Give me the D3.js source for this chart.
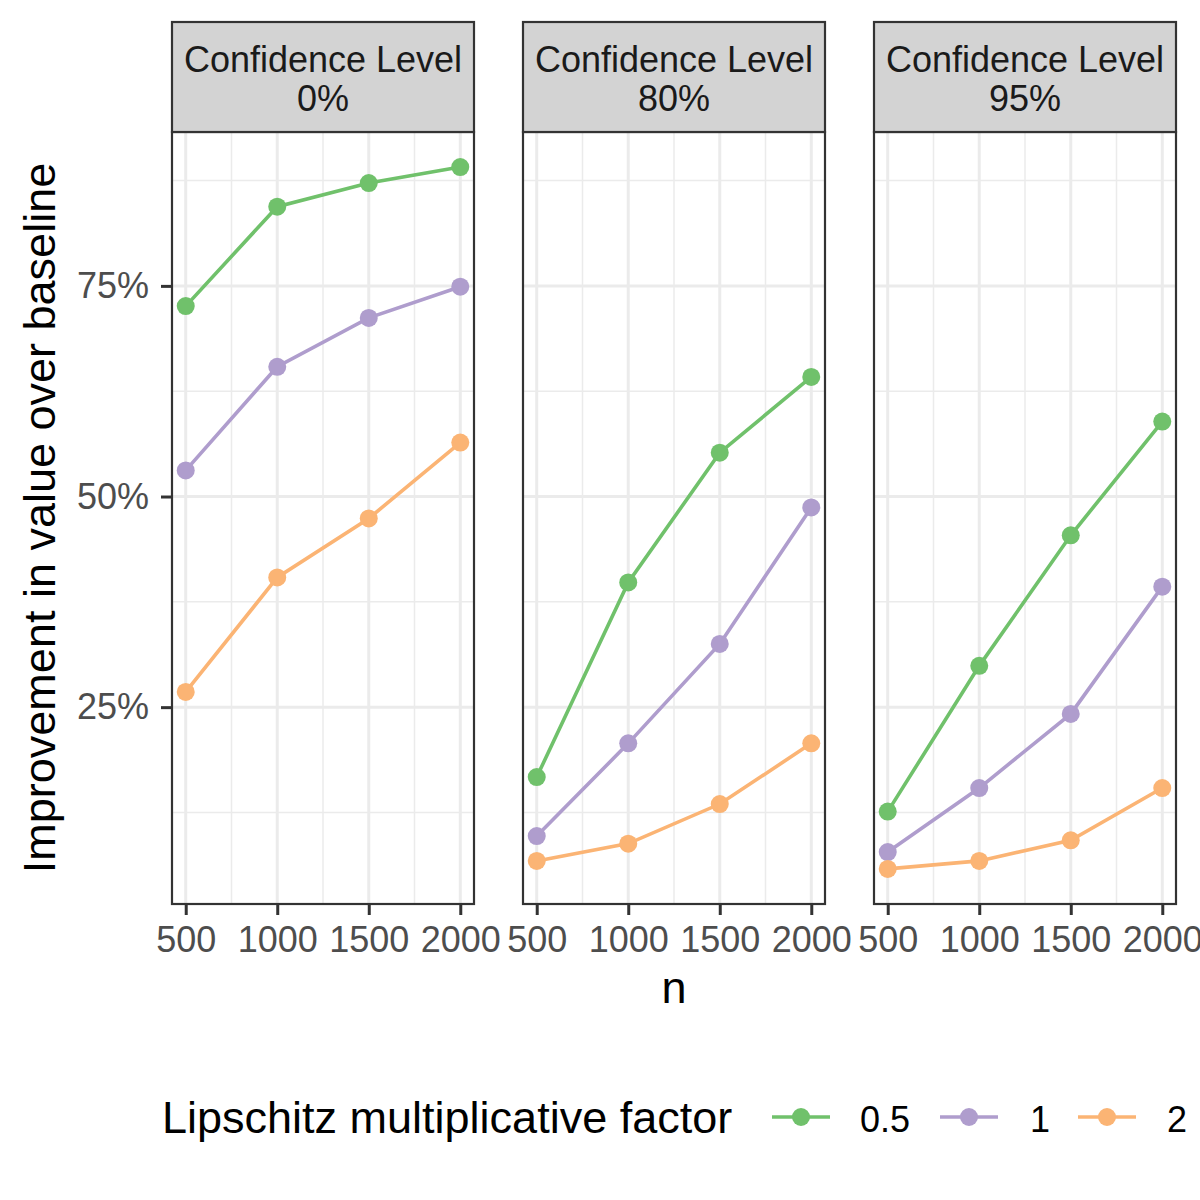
<!DOCTYPE html>
<html>
<head>
<meta charset="utf-8">
<script src="https://cdn.jsdelivr.net/npm/d3@7"></script>
<style>
  body { margin: 0; background: #fff; }
  text { font-family: "Liberation Sans", Arial, Helvetica, sans-serif; }
</style>
</head>
<body>
<div id="graph"></div>
<script>
// datos
const panels = ["0%", "80%", "95%"];
const factors = ["0.5", "1", "2"];
const nValues = [500, 1000, 1500, 2000];
const xTicks = [500, 1000, 1500, 2000];
const yTicks = [0.25, 0.50, 0.75];
const colors = ["#70C16B", "#AF9DCD", "#FBB474"];

// mejora (%) por panel y factor
const conf0 = {
  "0.5": [72.6, 84.4, 87.2, 89.1],
  "1":   [53.1, 65.4, 71.2, 74.9],
  "2":   [26.8, 40.4, 47.4, 56.4]
};
const conf80 = {
  "0.5": [16.7, 39.8, 55.2, 64.2],
  "1":   [9.7, 20.7, 32.5, 48.7],
  "2":   [6.75, 8.8, 13.5, 20.7]
};
const conf95 = {
  "0.5": [12.6, 29.9, 45.4, 58.9],
  "1":   [7.8, 15.4, 24.2, 39.3],
  "2":   [5.8, 6.75, 9.2, 15.4]
};
const panelData = [conf0, conf80, conf95];

const width = 1200, height = 1200;
const svg = d3.select("#graph").append("svg")
  .attr("width", width)
  .attr("height", height);

const panelLeft = [172, 523, 874];
const panelW = 302;
const stripTop = 22, stripH = 110;
const plotTop = stripTop + stripH, plotBottom = 904;
const fontFam = "'Liberation Sans', Arial, sans-serif";

// escala y con expansión del 5% como ggplot
const allVals = panelData.flatMap(p => factors.flatMap(f => p[f])).map(v => v / 100);
const yMin = d3.min(allVals), yMax = d3.max(allVals);
const yPad = (yMax - yMin) * 0.05;
const y = d3.scaleLinear()
  .domain([yMin - yPad, yMax + yPad])
  .range([plotBottom, plotTop]);
const yMinor = [0.125, 0.375, 0.625, 0.875];

const xPad = (d3.max(nValues) - d3.min(nValues)) * 0.05;
const xMinor = [750, 1250, 1750];

panelData.forEach((pd, i) => {
  const x = d3.scaleLinear()
    .domain([d3.min(nValues) - xPad, d3.max(nValues) + xPad])
    .range([panelLeft[i], panelLeft[i] + panelW]);
  const g = svg.append("g");

  // rejilla menor
  g.selectAll(".ymin").data(yMinor).enter().append("line")
    .attr("x1", panelLeft[i]).attr("x2", panelLeft[i] + panelW)
    .attr("y1", d => y(d)).attr("y2", d => y(d))
    .attr("stroke", "#EBEBEB").attr("stroke-width", 1.5);
  g.selectAll(".xmin").data(xMinor).enter().append("line")
    .attr("x1", d => x(d)).attr("x2", d => x(d))
    .attr("y1", plotTop).attr("y2", plotBottom)
    .attr("stroke", "#EBEBEB").attr("stroke-width", 1.5);
  // rejilla mayor
  g.selectAll(".ymaj").data(yTicks).enter().append("line")
    .attr("x1", panelLeft[i]).attr("x2", panelLeft[i] + panelW)
    .attr("y1", d => y(d)).attr("y2", d => y(d))
    .attr("stroke", "#EBEBEB").attr("stroke-width", 3);
  g.selectAll(".xmaj").data(xTicks).enter().append("line")
    .attr("x1", d => x(d)).attr("x2", d => x(d))
    .attr("y1", plotTop).attr("y2", plotBottom)
    .attr("stroke", "#EBEBEB").attr("stroke-width", 3);

  // líneas y puntos
  const line = d3.line().x((d, j) => x(nValues[j])).y(d => y(d / 100));
  factors.forEach((f, k) => {
    g.append("path")
      .attr("d", line(pd[f]))
      .attr("fill", "none")
      .attr("stroke", colors[k])
      .attr("stroke-width", 3.6);
    g.selectAll(".pt" + k).data(pd[f]).enter().append("circle")
      .attr("cx", (d, j) => x(nValues[j]))
      .attr("cy", d => y(d / 100))
      .attr("r", 9)
      .attr("fill", colors[k]);
  });

  // borde del panel
  g.append("rect")
    .attr("x", panelLeft[i]).attr("y", plotTop)
    .attr("width", panelW).attr("height", plotBottom - plotTop)
    .attr("fill", "none").attr("stroke", "#333333").attr("stroke-width", 2.2);

  // tira superior
  g.append("rect")
    .attr("x", panelLeft[i]).attr("y", stripTop)
    .attr("width", panelW).attr("height", stripH)
    .attr("fill", "#D3D3D3").attr("stroke", "#333333").attr("stroke-width", 2.2);
  const cx = panelLeft[i] + panelW / 2;
  g.append("text").attr("x", cx).attr("y", 72)
    .attr("text-anchor", "middle").attr("font-size", 36).attr("fill", "#1A1A1A")
    .text("Confidence Level");
  g.append("text").attr("x", cx).attr("y", 111)
    .attr("text-anchor", "middle").attr("font-size", 36).attr("fill", "#1A1A1A")
    .text(panels[i]);

  // eje x
  const xAxis = g.append("g")
    .attr("transform", `translate(0,${plotBottom})`)
    .call(d3.axisBottom(x).tickValues(xTicks).tickSize(11).tickPadding(11).tickFormat(d3.format("d")));
  xAxis.select(".domain").remove();
  xAxis.selectAll(".tick line").attr("stroke", "#333333").attr("stroke-width", 3);
  xAxis.selectAll(".tick text").attr("font-size", 36).attr("fill", "#4D4D4D")
    .style("font-family", fontFam);

  // eje y sólo en el primer panel
  if (i === 0) {
    const yAxis = g.append("g")
      .attr("transform", `translate(${panelLeft[0]},0)`)
      .call(d3.axisLeft(y).tickValues(yTicks).tickSize(11).tickPadding(12).tickFormat(d3.format(".0%")));
    yAxis.select(".domain").remove();
    yAxis.selectAll(".tick line").attr("stroke", "#333333").attr("stroke-width", 3);
    yAxis.selectAll(".tick text").attr("font-size", 36).attr("fill", "#4D4D4D")
      .style("font-family", fontFam);
  }
});

// títulos de ejes
svg.append("text")
  .attr("transform", `translate(55,${(plotTop + plotBottom) / 2}) rotate(-90)`)
  .attr("text-anchor", "middle").attr("font-size", 45).attr("fill", "#000")
  .text("Improvement in value over baseline");
svg.append("text")
  .attr("x", panelLeft[1] + panelW / 2).attr("y", 1003)
  .attr("text-anchor", "middle").attr("font-size", 45).attr("fill", "#000")
  .text("n");

// leyenda
const legY = 1117;
svg.append("text").attr("x", 162).attr("y", 1133)
  .attr("font-size", 45).attr("fill", "#000")
  .text("Lipschitz multiplicative factor");
const keyX = [772, 940, 1078];
const labX = [860, 1030, 1167];
factors.forEach((f, k) => {
  svg.append("line")
    .attr("x1", keyX[k]).attr("x2", keyX[k] + 58)
    .attr("y1", legY).attr("y2", legY)
    .attr("stroke", colors[k]).attr("stroke-width", 3.6);
  svg.append("circle")
    .attr("cx", keyX[k] + 29).attr("cy", legY).attr("r", 9)
    .attr("fill", colors[k]);
  svg.append("text").attr("x", labX[k]).attr("y", 1132)
    .attr("font-size", 36).attr("fill", "#000")
    .text(f);
});
</script>
</body>
</html>
